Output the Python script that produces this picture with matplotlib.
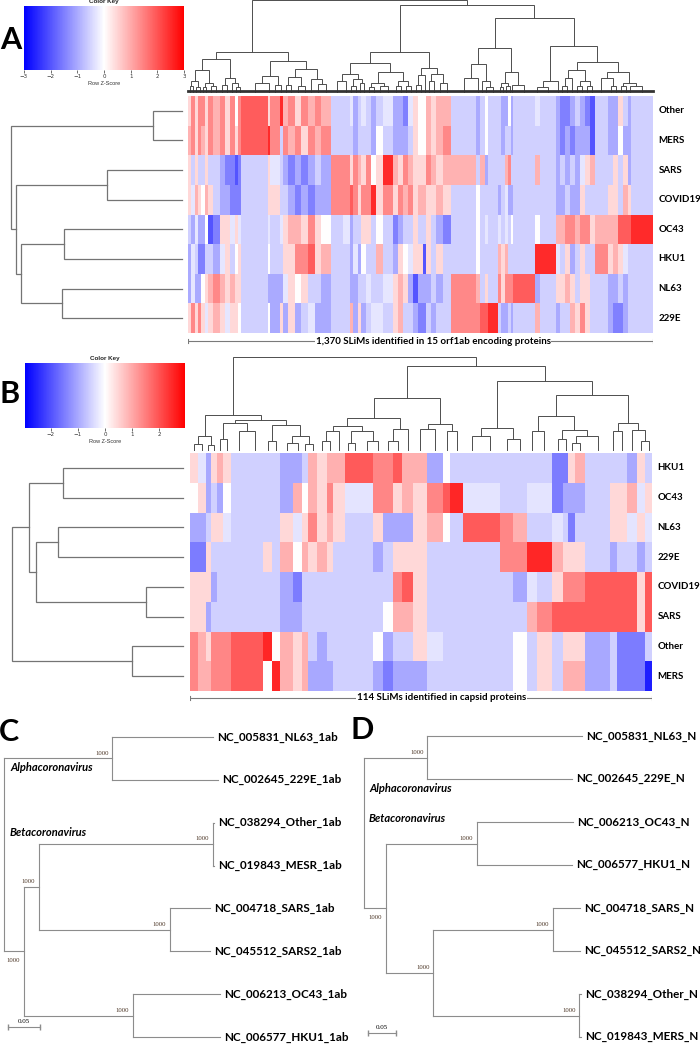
import numpy as np
import matplotlib
matplotlib.use('Agg')
import matplotlib.pyplot as plt
from matplotlib.colors import Normalize
from matplotlib.colorbar import ColorbarBase

W, H = 700, 1044

# z-score level per letter code used in the heatmap rows
LEVELS = {'a': -2.6, 'b': -2.0, 'c': -1.5, 'd': -1.0, 'e': -0.55, 'f': -0.3,
          'g': 0.0, 'h': 0.45, 'i': 0.9, 'j': 1.4, 'k': 1.9, 'l': 2.5}

# ---- panel A: 1,370 SLiMs, orf1ab ----
a_rows = ['Other', 'MERS', 'SARS', 'COVID19', 'OC43', 'HKU1', 'NL63', '229E']
a_block_width = [10, 10, 10, 10, 10, 10, 15, 20, 15, 15, 15, 10, 10, 80, 5, 30, 10, 15,
                 20, 20, 20, 20, 20, 30, 35,
                 20, 10, 15, 10, 15, 15, 15, 20, 30, 15, 15, 15, 15, 15, 15, 10, 15, 15,
                 20, 25, 75, 10, 15, 10, 30,
                 10, 10, 10, 10, 5, 65, 15, 50, 10, 15, 15, 15, 15, 15, 15, 15, 40, 15,
                 15, 15, 15, 10, 65]
a_codes = [
    'hjhjjhjijhjgjkhjlijhjijie efdefedefddcfhggihiiedege eddgdefedccdedcbeddhede',
    'ijhjihjijhjhjkljejijhjije eedeeedgedddehggihijedege edeedeeedcdcdddbeddgdde',
    'heheeheedccbcehfedcdcdedj jhjihjghlihjihhhjihiieide eeijeeiedededfhieehehde',
    'hfihgihe ddccc ehh eedcdcdd j jkjhjjlhjhjijhiihhiheg eee defddeeeddeddheeehheihe',
    'edfddgbchhfhfefefhiihjhge fdeehhegecdeeheehedcegefe fefegegeiijjijjhiiikkkl',
    'dfecceedfhegheg eeh hjjkhie edfdgeeiedhgfhhbheheegeee ihieeellfehdeheejhihfee',
    'dfddghijihihhedddfhgheede eddeefeefhihdbdddedejiehe jhjjjkdehhihehheeddedee',
    'hjhjhfhihfhhgegdhdhdefdde eidhdeffehieedccedeejjkkl eddedeiedeeihjheedccdee',
]
a_col_tree = [1.0,
              [0.44,
               [0.357,
                [0.24, [0.12, [0.06, 0, 1], [0.05, 2, 3]], [0.10, [0.05, 4, 5], [0.07, 6, 7]]],
                [0.15, [0.08, 8, 9], [0.10, 10, [0.05, 11, 12]]]],
               [0.34,
                [0.17, [0.10, 13, 14], [0.08, 15, 16]],
                [0.25, [0.16, [0.08, 17, 18], [0.07, 19, 20]], [0.14, 21, [0.09, 22, 23]]]]],
              [0.946,
               [0.44,
                [0.32, [0.20, [0.12, 24, 25], [0.14, [0.07, 26, 27], [0.10, 28, 29]]],
                 [0.22, [0.10, [0.05, 30, 31], [0.06, 32, 33]], [0.12, [0.06, 34, 35], [0.07, 36, 37]]]],
                [0.26, [0.18, [0.08, 38, 39], 40], [0.20, [0.12, 41, 42], [0.10, 43, 44]]]],
               [0.80,
                [0.48, [0.30, [0.15, 45, 46], [0.12, 47, [0.05, 48, 49]]],
                 [0.22, [0.10, [0.05, 50, 51], [0.06, 52, 53]], [0.08, 54, 55]]],
                [0.505, [0.115, [0.05, 56, 57], 58],
                 [0.33, [0.24, [0.15, [0.07, 59, 60], 61], [0.12, [0.06, 62, 63], [0.07, 64, 65]]],
                  [0.22, [0.15, 66, [0.06, 67, 68]], [0.10, [0.06, 69, 70], [0.06, 71, 72]]]]]]]]
a_row_tree = [1.0, [0.17, 0, 1], [0.97, [0.44, 2, 3], [0.94, [0.69, 4, 5], [0.70, 6, 7]]]]
a_caption = '1,370 SLiMs identified in 15 orf1ab encoding proteins'

# ---- panel B: 114 SLiMs, capsid ----
b_rows = ['HKU1', 'OC43', 'NL63', '229E', 'COVID19', 'SARS', 'Other', 'MERS']
b_block_width = [25, 23, 14, 18, 20, 22, 48, 50, 25, 25, 40, 25, 20, 25, 30, 20,
                 35, 15, 30, 40, 30, 30, 25, 35, 40, 50, 20, 40, 50, 60, 40, 40,
                 30, 45, 35, 15, 20, 30, 75, 20, 30, 30, 25, 21]
b_codes = [
    'hfdhih eeeedde ihiikkkjjkii dgeeeeeee cchie eedhe',
    'ghdedg eeeedig ihjhfffjjhih jklffeeff cddde hhifh',
    'ddehhf eeeehfh jhiheeehdddh igekkjiee fecee hhfhf',
    'ccheee eeheigi hiheeeedehhh eeeeejjll ihhhe deede',
    'hhhdee eeeedce eeeeeeeeejkh eeeeeedfe hjjjk kkkhk',
    'hhdeee eeeedde eeeeeeeegiih eeeeeeeij kkkkk kkkhk',
    'jihjjj kklgihi edeeeeegdeeh feeeeegeh ehhhd eccce',
    'jiijjj kkglihi dddeeeedcddd eeeeeegeh eiiid eccca',
]
b_col_tree = [1.0,
              [0.378,
               [0.15, [0.06, 0, 1], [0.05, 2, 3]],
               [0.32,
                [0.29, [0.12, 4, 5], [0.20, 6, 7]],
                [0.27, [0.10, 8, 9], [0.15, [0.08, 10, 11], [0.06, 12, 13]]]]],
              [0.906,
               [0.56,
                [0.34, [0.26, [0.20, [0.10, 14, 15], 16], [0.20, [0.08, 17, 18], [0.10, 19, 20]]],
                 [0.23, [0.10, 21, 22], 23]],
                [0.28, [0.23, 24, 25], [0.20, 26, 27]]],
               [0.737,
                [0.24, [0.15, 28, 29], [0.12, 30, 31]],
                [0.59,
                 [0.37, [0.20, 32, 33], [0.22, [0.12, 34, 35], [0.15, [0.08, 36, 37], 38]]],
                 [0.295, [0.20, 39, 40], [0.22, 41, [0.10, 42, 43]]]]]]]
b_row_tree = [1.0, [0.90, [0.70, 0, 1], [0.86, [0.73, 2, 3], [0.216, 4, 5]]], [0.30, 6, 7]]
b_caption = '114 SLiMs identified in capsid proteins'

# ---- panels C, D: neighbour-joining trees (branch length, children/name, bootstrap) ----
c_tree = (0.0, [
    (0.169, [(0.158, 'NC_005831_NL63_1ab'), (0.166, 'NC_002645_229E_1ab')], 1000),
    (0.031, [
        (0.023, [
            (0.272, [(0.002, 'NC_038294_Other_1ab'), (0.002, 'NC_019843_MESR_1ab')], 1000),
            (0.205, [(0.0625, 'NC_004718_SARS_1ab'), (0.0625, 'NC_045512_SARS2_1ab')], 1000)], 1000),
        (0.170, [(0.136, 'NC_006213_OC43_1ab'), (0.136, 'NC_006577_HKU1_1ab')], 1000)], 1000)], None)
d_tree = (0.0, [
    (0.1125, [(0.277, 'NC_005831_NL63_N'), (0.259, 'NC_002645_229E_N')], 1000),
    (0.039, [
        (0.1625, [(0.171, 'NC_006213_OC43_N'), (0.170, 'NC_006577_HKU1_N')], 1000),
        (0.084, [
            (0.214, [(0.048, 'NC_004718_SARS_N'), (0.048, 'NC_045512_SARS2_N')], 1000),
            (0.261, [(0.003, 'NC_038294_Other_N'), (0.003, 'NC_019843_MERS_N')], 1000)], 1000)], 1000)], None)
scale_len = 0.05

LABEL_FONT = 'Lato'
COL_DENDRO = '#4d4d4d'
ROW_DENDRO = '#747474'
TREE_COLOR = '#8c8c8c'

fig = plt.figure(figsize=(W / 100, H / 100), dpi=100)


def px_axes(x0, y0, x1, y1):
    ax = fig.add_axes([x0 / W, 1 - y1 / H, (x1 - x0) / W, (y1 - y0) / H])
    ax.axis('off')
    return ax


def draw_dendro(ax, node, pos, orient, lw, color):
    if isinstance(node, int):
        return pos[node], 0.0
    h, left, right = node
    pl, hl = draw_dendro(ax, left, pos, orient, lw, color)
    pr, hr = draw_dendro(ax, right, pos, orient, lw, color)
    a = [pl, pl, pr, pr]
    b = [hl, h, h, hr]
    if orient == 'top':
        ax.plot(a, b, color=color, lw=lw, clip_on=False, solid_joinstyle='miter')
    else:
        ax.plot(b, a, color=color, lw=lw, clip_on=False, solid_joinstyle='miter')
    return (pl + pr) / 2, h


def color_key(box, vmax, ticks):
    cax = fig.add_axes([box[0] / W, 1 - box[3] / H, (box[2] - box[0]) / W, (box[3] - box[1]) / H])
    cb = ColorbarBase(cax, cmap='bwr', norm=Normalize(-vmax, vmax),
                      orientation='horizontal', ticks=ticks)
    cb.outline.set_visible(False)
    cax.tick_params(labelsize=4, length=2, width=0.5, pad=1, colors='#333333')
    cax.set_title('Color Key', fontsize=4.5, pad=2, family='Liberation Sans',
                  fontweight='bold', color='#222222')
    cax.set_xlabel('Row Z-Score', fontsize=4, labelpad=1.5, family='Liberation Sans', color='#333333')


def heat_panel(widths, codes, rows, col_tree, row_tree, vmax, hm_box, cd_box, rd_x, cap_y,
               cap_frac, caption, baseline):
    edges = np.concatenate([[0], np.cumsum(widths)])
    centers = (edges[:-1] + edges[1:]) / 2
    rows_c = [''.join(r.split()) for r in codes]
    for r in rows_c:
        assert len(r) == len(widths), (len(r), len(widths), r)
    vals = np.array([[LEVELS[ch] for ch in row] for row in rows_c])

    ax = px_axes(*hm_box)
    ax.pcolormesh(edges, np.arange(len(rows) + 1), vals, cmap='bwr', vmin=-vmax, vmax=vmax)
    ax.set_xlim(0, edges[-1])
    ax.set_ylim(len(rows), 0)
    for i, name in enumerate(rows):
        ax.annotate(name, (1, i + 0.5), xycoords=('axes fraction', 'data'),
                    xytext=(4, 0), textcoords='offset points', va='center', ha='left',
                    fontsize=7, fontweight='bold', family=LABEL_FONT)

    cd = px_axes(*cd_box)
    draw_dendro(cd, col_tree, centers, 'top', 0.7, COL_DENDRO)
    if baseline:
        cd.plot([0, edges[-1]], [0.015, 0.015], color='#333333', lw=2.0, clip_on=False)
    cd.set_xlim(0, edges[-1])
    cd.set_ylim(0, 1)

    rd = px_axes(rd_x[0], hm_box[1], rd_x[1], hm_box[3])
    draw_dendro(rd, row_tree, np.arange(len(rows)) + 0.5, 'left', 0.9, ROW_DENDRO)
    rd.set_xlim(1, 0)
    rd.set_ylim(len(rows), 0)

    br = px_axes(hm_box[0], cap_y - 5, hm_box[2], cap_y + 5)
    br.plot([0, edges[-1]], [0, 0], color='#7a7a7a', lw=0.8)
    br.plot([0, 0], [-0.4, 0.4], color='#7a7a7a', lw=0.8)
    br.plot([edges[-1], edges[-1]], [-0.4, 0.4], color='#7a7a7a', lw=0.8)
    br.set_xlim(0, edges[-1])
    br.set_ylim(-1, 1)
    br.text(cap_frac * edges[-1], 0, caption, ha='center', va='center', fontsize=7,
            fontweight='bold', family=LABEL_FONT,
            bbox=dict(facecolor='white', edgecolor='none', pad=0.6))


def draw_tree(ax, tree, alpha_pos, beta_pos):
    leaves = []
    boots = []

    def walk(node, x0, depth, last_of_root):
        x = x0 + node[0]
        if isinstance(node[1], str):
            y = len(leaves)
            leaves.append((x, y, node[1]))
            ax.plot([x0, x], [y, y], color=TREE_COLOR, lw=0.8)
            return y
        kids = node[1]
        ys = [walk(k, x, depth + 1, depth == 0 and j == len(kids) - 1) for j, k in enumerate(kids)]
        ym = np.mean(ys)
        ax.plot([x, x], [min(ys), max(ys)], color=TREE_COLOR, lw=0.8)
        if depth > 0:
            ax.plot([x0, x], [ym, ym], color=TREE_COLOR, lw=0.8)
        if node[2] is not None:
            boots.append((x, ym, node[2], last_of_root))
        return ym

    walk(tree, 0.0, 0, False)
    for x, y, name in leaves:
        ax.annotate(name, (x, y), xytext=(3, 0), textcoords='offset points', va='center',
                    ha='left', fontsize=8.4, fontweight='bold', family=LABEL_FONT)
    for x, y, b, below in boots:
        ax.annotate(str(b), (x, y), xytext=(-2.5, -5 if below else 2), textcoords='offset points',
                    ha='right', va='top' if below else 'bottom', fontsize=4.8,
                    family='Liberation Serif', color='#4a3424')
    ax.text(alpha_pos[0], alpha_pos[1], 'Alphacoronavirus', ha='left', va='center', fontsize=8,
            fontweight='bold', style='italic', family=LABEL_FONT)
    ax.text(beta_pos[0], beta_pos[1], 'Betacoronavirus', ha='left', va='center', fontsize=8,
            fontweight='bold', style='italic', family=LABEL_FONT)


# panel A
color_key((24, 6, 184, 70), 3.0, [-3, -2, -1, 0, 1, 2, 3])
heat_panel(a_block_width, a_codes, a_rows, a_col_tree, a_row_tree, 3.0,
           (188, 96, 653, 333), (188, 0, 653, 92), (11, 182), 341, 0.527, a_caption, True)

# panel B
color_key((25, 363, 185, 428), 2.95, [-2, -1, 0, 1, 2])
heat_panel(b_block_width, b_codes, b_rows, b_col_tree, b_row_tree, 2.95,
           (190, 453, 652, 691), (190, 357, 652, 450), (12, 183), 698, 0.545, b_caption, False)

# panel C
s_c = scale_len / 32
axc = px_axes(0, 715, 350, 1044)
draw_tree(axc, c_tree, (6 * s_c, 0.72), (6 * s_c, 2.24))
axc.set_xlim(-4 * s_c, 346 * s_c)
axc.set_ylim(7 + 7 / 42.86, -22 / 42.86)
axc.plot([4 * s_c, 4 * s_c + scale_len], [6.77, 6.77], color=TREE_COLOR, lw=0.8, marker='|', ms=4)
axc.text(4 * s_c + scale_len / 2, 6.7, '%.2f' % scale_len, ha='center', va='bottom',
         fontsize=5, family='Liberation Serif')

# panel D
s_d = scale_len / 28
axd = px_axes(350, 715, 700, 1044)
draw_tree(axd, d_tree, (5 * s_d, 1.21), (5 * s_d, 1.93))
axd.set_xlim(-14 * s_d, 336 * s_d)
axd.set_ylim(7 + 7 / 43.0, -21 / 43.0)
axd.plot([4 * s_d, 4 * s_d + scale_len], [6.9, 6.9], color=TREE_COLOR, lw=0.8, marker='|', ms=4)
axd.text(4 * s_d + scale_len / 2, 6.83, '%.2f' % scale_len, ha='center', va='bottom',
         fontsize=5, family='Liberation Serif')

# panel letters
for letter, (x, y) in zip('ABCD', [(11, 40), (10, 394), (9, 732), (362, 730)]):
    fig.text(x / W, 1 - y / H, letter, ha='center', va='center', fontsize=22,
             fontweight='bold', family=LABEL_FONT)

fig.savefig('out.png', dpi=100)
